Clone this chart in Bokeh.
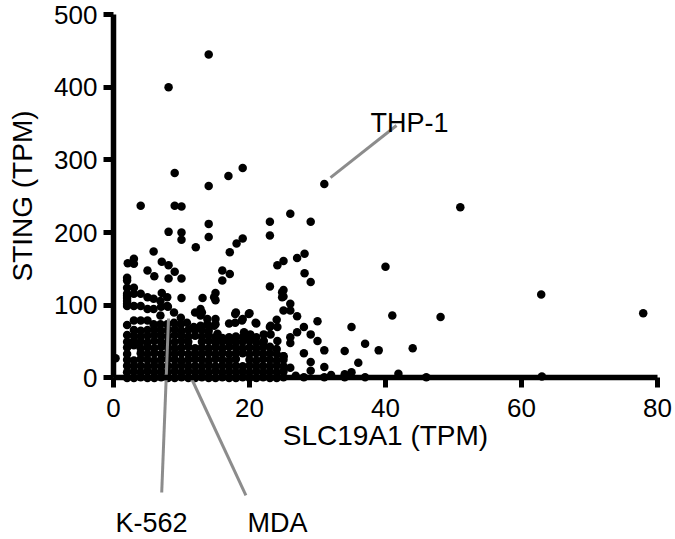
from bokeh.plotting import figure
from bokeh.models import Label, FixedTicker, Range1d
from bokeh.embed import file_html
from bokeh.resources import INLINE

# ---- data (SLC19A1 TPM vs STING TPM) ----
# sparse / outlying cell lines
slc_sparse = [14.0, 8.1, 9.0, 14.0, 16.9, 19.0, 31.0, 29.0, 28.1, 28.1, 29.0, 51.0, 40.0, 62.9, 77.9,
              41.0, 48.1, 35.0, 30.0, 30.0, 31.0, 34.0, 37.0, 39.0, 44.0, 36.0, 29.0, 31.0, 29.0, 35.0,
              34.0, 41.9, 37.0, 46.0, 63.0, 28.0, 31.0, 34.0, 32.0, 4.0, 9.0, 10.0, 14.0, 8.1, 10.0,
              10.0, 14.0, 12.1, 19.0, 18.1, 17.1, 23.0, 23.0, 26.0, 27.0, 25.0, 24.1, 23.0, 5.9, 2.1,
              3.0, 7.1, 8.1, 5.0, 9.0, 6.0, 8.1, 10.0, 16.0, 17.1, 16.0, 2.0, 2.0, 2.0, 3.0,
              2.0, 2.0, 2.0, 2.0, 3.0, 3.0, 7.1, 10.0, 13.1, 15.0, 15.0, 25.0, 25.0, 26.0, 25.0,
              26.0, 18.0, 20.0, 17.0, 19.0, 21.0, 27.0, 28.0, 27.0, 26.0, 26.0, 23.0, 24.0, 28.0, 2.0,
              12.0, 13.0, 7.0, 8.0, 29.0, 24.8, 24.8, 15.0, 15.0, 17.9, 19.9, 17.9, 18.9, 20.9, 23.1,
              24.1, 22.1, 23.1, 19.2, 20.1, 24.1, 22.1, 25.0, 26.0, 26.8, 2.0, 3.0, 4.0, 5.0, 5.9,
              6.9, 7.9, 7.9, 14.8, 2.0, 4.0, 5.0, 5.9, 6.9, 8.9, 9.9, 12.8, 12.8, 13.8, 3.0,
              4.0, 5.0, 5.9, 6.9, 7.9, 8.9, 9.9, 10.8, 11.8, 12.8, 13.8, 14.8, 15.3, 0.3]
sting_sparse = [445, 400, 282, 264, 278, 289, 267, 215, 171, 144, 132, 235, 153, 115, 89,
                86, 84, 70, 78, 51, 38, 37, 47, 38, 41, 21, 22, 15, 10, 8,
                5, 6, 1, 1, 2, 1, 1, 1, 4, 237, 237, 236, 212, 201, 200,
                190, 194, 180, 192, 185, 173, 215, 196, 226, 165, 161, 155, 126, 174, 158,
                164, 160, 155, 148, 146, 140, 137, 137, 148, 143, 134, 138, 134, 124, 124,
                116, 110, 106, 99, 99, 157, 117, 110, 110, 117, 107, 121, 112, 102, 93,
                93, 90, 89, 75, 81, 75, 85, 70, 63, 56, 48, 70, 80, 34, 73,
                90, 90, 98, 98, 60, 118, 111, 81, 74, 88, 88, 76, 79, 76, 72,
                70, 60, 60, 63, 60, 51, 51, 30, 14, 3, 113, 116, 116, 111, 109,
                106, 111, 99, 111, 102, 99, 95, 95, 86, 90, 83, 95, 86, 81, 79,
                79, 79, 74, 74, 74, 76, 74, 76, 70, 72, 74, 72, 61, 27]

# dense core of cell lines, read column by column (SLC19A1 value -> STING values)
core_slc = [2, 3, 4, 5, 6, 7, 8, 9, 10, 11, 12, 13, 14, 15, 16, 17, 18, 19, 20, 21, 22, 23, 24, 25]
core_sting = [
    [0, 8, 17, 25, 33, 42, 50, 59],
    [0, 9, 16, 24, 45, 51, 58, 66],
    [1, 8, 17, 26, 34, 41, 50, 57, 65],
    [0, 9, 16, 25, 33, 42, 49, 58, 66],
    [0, 8, 17, 24, 34, 41, 51, 59, 67],
    [1, 9, 16, 25, 33, 43, 50, 58, 65],
    [0, 8, 17, 26, 34, 42, 49, 57, 66],
    [0, 9, 16, 25, 33, 41, 50, 59, 67],
    [1, 8, 17, 24, 34, 42, 51, 58, 65],
    [0, 9, 16, 25, 33, 43, 50, 57, 66],
    [0, 8, 17, 26, 34, 41, 58, 66],
    [1, 9, 16, 25, 33, 42, 50, 57, 66],
    [0, 8, 17, 24, 34, 41, 51, 59, 65],
    [0, 9, 16, 26, 33, 42, 49, 56],
    [1, 8, 17, 25, 34, 41, 50, 55],
    [0, 9, 16, 24, 33, 43, 51, 56],
    [0, 8, 17, 26, 34, 42, 49, 57],
    [1, 9, 16, 34, 41, 50, 56],
    [0, 8, 17, 25, 33, 42, 51, 55],
    [0, 9, 16, 24, 34, 41, 49, 56],
    [1, 8, 17, 26, 33, 42, 48],
    [0, 9, 16, 25, 34, 43],
    [0, 8, 17, 24, 33, 40],
    [1, 9, 16, 25, 30],
]

x_ticks = [0, 20, 40, 60, 80]
y_ticks = [0, 100, 200, 300, 400, 500]

# labelled cell lines: name, label anchor, leader line (start -> end)
callouts = [
    ("THP-1", (37.79, 350.1), (31.91, 275.6), (41.62, 347.3)),
    ("K-562", (0.29, -198.8), (8.09, 81.8), (7.09, -157.5)),
    ("MDA", (19.71, -198.8), (11.47, -0.7), (19.47, -161.6)),
]

x_all = slc_sparse + [x for x, col in zip(core_slc, core_sting) for _ in col]
y_all = sting_sparse + [y for col in core_sting for y in col]

FONT = "Liberation Sans"

# The frame fills the whole canvas so that nothing (tick labels, call-outs below the
# x axis) is clipped; both axes are pinned at 0 and bounded to the data extent.
p = figure(width=675, height=539, output_backend="svg", toolbar_location=None,
           x_range=Range1d(-16.618, 82.647), y_range=Range1d(-222.15, 519.26),
           min_border_left=0, min_border_right=0, min_border_top=0, min_border_bottom=0,
           background_fill_color="white", border_fill_color="white")
p.outline_line_color = None
p.grid.visible = False

p.scatter(x_all, y_all, size=8.5, fill_color="black", line_color="black", line_width=0)

GREY = "#8c8c8c"
p.segment(x0=[c[2][0] for c in callouts], y0=[c[2][1] for c in callouts],
          x1=[c[3][0] for c in callouts], y1=[c[3][1] for c in callouts],
          line_color=GREY, line_width=3)
for txt, (lx, ly), _, _ in callouts:
    p.add_layout(Label(x=lx, y=ly, text=txt, text_font=FONT, text_font_size="27px",
                       text_color="black", text_align="left", text_baseline="alphabetic"))

for ax in (p.xaxis[0], p.yaxis[0]):
    ax.axis_line_width = 5.5
    ax.axis_line_color = "black"
    ax.major_tick_line_width = 5
    ax.major_tick_line_color = "black"
    ax.major_tick_out = 10
    ax.major_tick_in = 0
    ax.minor_tick_line_color = None
    ax.major_label_text_font = FONT
    ax.major_label_text_font_size = "26px"
    ax.major_label_text_color = "black"
    ax.axis_label_text_font = FONT
    ax.axis_label_text_font_size = "28px"
    ax.axis_label_text_font_style = "normal"
    ax.axis_label_text_color = "black"

p.xaxis.ticker = FixedTicker(ticks=x_ticks)
p.yaxis.ticker = FixedTicker(ticks=y_ticks)
p.xaxis.axis_label = "SLC19A1 (TPM)"
p.yaxis.axis_label = "STING (TPM)"
p.xaxis.fixed_location = 0
p.yaxis.fixed_location = 0
p.xaxis.bounds = (0, 80)
p.yaxis.bounds = (0, 500)
p.xaxis.major_label_standoff = 11
p.xaxis.axis_label_standoff = 0
p.yaxis.major_label_standoff = 6
p.yaxis.axis_label_standoff = 13

open("out.html", "w").write(file_html(p, INLINE))
